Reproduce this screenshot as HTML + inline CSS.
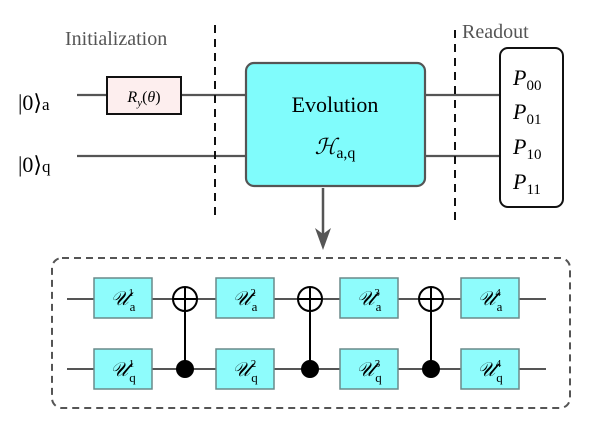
<!DOCTYPE html>
<html><head><meta charset="utf-8"><style>body{margin:0;background:#fff}svg{display:block}</style></head><body>
<svg width="609" height="430" viewBox="0 0 609 430" xmlns="http://www.w3.org/2000/svg" font-family="Liberation Serif, serif">
<g stroke="#555" stroke-width="2.2" fill="none">
<line x1="77" y1="95" x2="246" y2="95"/>
<line x1="77" y1="156" x2="246" y2="156"/>
<line x1="425" y1="95" x2="500" y2="95"/>
<line x1="425" y1="156" x2="500" y2="156"/>
</g>
<rect x="107" y="77" width="74" height="37" fill="#fdeeee" stroke="#111" stroke-width="2"/>
<text x="144" y="102" font-size="16" font-style="italic" text-anchor="middle">R<tspan font-size="11" dy="4">y</tspan><tspan dy="-4" font-style="normal">(</tspan>θ<tspan font-style="normal">)</tspan></text>
<g stroke="#111" stroke-width="2" stroke-dasharray="8,6">
<line x1="215" y1="25" x2="215" y2="215"/>
<line x1="455" y1="30" x2="455" y2="222"/>
</g>
<text x="65" y="45" font-size="20" fill="#555">Initialization</text>
<text x="462" y="38" font-size="20" fill="#555">Readout</text>
<text x="18" y="110" font-size="22">|0⟩<tspan font-size="17">a</tspan></text>
<text x="18" y="172" font-size="22">|0⟩<tspan font-size="17">q</tspan></text>
<rect x="246" y="63" width="179" height="123" rx="8" fill="#80fcfc" stroke="#555" stroke-width="2.2"/>
<text x="335" y="112" font-size="22" text-anchor="middle">Evolution</text>
<text x="335" y="154" font-size="22" text-anchor="middle"><tspan font-style="italic">ℋ</tspan><tspan font-size="16" dy="4">a,q</tspan></text>
<rect x="500" y="48" width="63" height="159" rx="8" fill="#fff" stroke="#111" stroke-width="2"/>
<g font-size="22" font-style="italic">
<text x="513" y="85">P<tspan font-size="15" font-style="normal" dy="5">00</tspan></text>
<text x="513" y="119">P<tspan font-size="15" font-style="normal" dy="5">01</tspan></text>
<text x="513" y="154">P<tspan font-size="15" font-style="normal" dy="5">10</tspan></text>
<text x="513" y="189">P<tspan font-size="15" font-style="normal" dy="5">11</tspan></text>
</g>
<line x1="323" y1="188" x2="323" y2="235" stroke="#555" stroke-width="2.5"/>
<polygon points="315,228 323,250 331,228 323,234" fill="#555"/>
<rect x="52" y="258" width="518" height="150" rx="10" fill="none" stroke="#555" stroke-width="2" stroke-dasharray="7,5"/>
<g stroke="#555" stroke-width="2">
<line x1="67" y1="299" x2="546" y2="299"/>
<line x1="67" y1="369" x2="546" y2="369"/>
</g>
<g fill="#8efcfc" stroke="#6a8a8a" stroke-width="1.5">
<rect x="94" y="278" width="58" height="40"/><rect x="94" y="349" width="58" height="40"/>
<rect x="216" y="278" width="58" height="40"/><rect x="216" y="349" width="58" height="40"/>
<rect x="340" y="278" width="58" height="40"/><rect x="340" y="349" width="58" height="40"/>
<rect x="461" y="278" width="58" height="40"/><rect x="461" y="349" width="58" height="40"/>
</g>
<g font-size="20" font-style="italic" text-anchor="middle">
<text x="123" y="305">𝒰<tspan font-size="13" font-style="normal" dx="1" dy="6">a</tspan><tspan font-size="11" font-style="normal" dx="-7" dy="-15">1</tspan></text>
<text x="123" y="376">𝒰<tspan font-size="13" font-style="normal" dx="1" dy="6">q</tspan><tspan font-size="11" font-style="normal" dx="-7" dy="-15">1</tspan></text>
<text x="245" y="305">𝒰<tspan font-size="13" font-style="normal" dx="1" dy="6">a</tspan><tspan font-size="11" font-style="normal" dx="-7" dy="-15">2</tspan></text>
<text x="245" y="376">𝒰<tspan font-size="13" font-style="normal" dx="1" dy="6">q</tspan><tspan font-size="11" font-style="normal" dx="-7" dy="-15">2</tspan></text>
<text x="369" y="305">𝒰<tspan font-size="13" font-style="normal" dx="1" dy="6">a</tspan><tspan font-size="11" font-style="normal" dx="-7" dy="-15">3</tspan></text>
<text x="369" y="376">𝒰<tspan font-size="13" font-style="normal" dx="1" dy="6">q</tspan><tspan font-size="11" font-style="normal" dx="-7" dy="-15">3</tspan></text>
<text x="490" y="305">𝒰<tspan font-size="13" font-style="normal" dx="1" dy="6">a</tspan><tspan font-size="11" font-style="normal" dx="-7" dy="-15">4</tspan></text>
<text x="490" y="376">𝒰<tspan font-size="13" font-style="normal" dx="1" dy="6">q</tspan><tspan font-size="11" font-style="normal" dx="-7" dy="-15">4</tspan></text>
</g>
<g stroke="#000" stroke-width="2" fill="#fff">
<line x1="185" y1="287" x2="185" y2="369"/><circle cx="185" cy="299" r="12"/><line x1="173" y1="299" x2="197" y2="299"/><line x1="185" y1="287" x2="185" y2="311"/><circle cx="185" cy="369" r="8" fill="#000"/>
<line x1="310" y1="287" x2="310" y2="369"/><circle cx="310" cy="299" r="12"/><line x1="298" y1="299" x2="322" y2="299"/><line x1="310" y1="287" x2="310" y2="311"/><circle cx="310" cy="369" r="8" fill="#000"/>
<line x1="431" y1="287" x2="431" y2="369"/><circle cx="431" cy="299" r="12"/><line x1="419" y1="299" x2="443" y2="299"/><line x1="431" y1="287" x2="431" y2="311"/><circle cx="431" cy="369" r="8" fill="#000"/>
</g>
</svg>
</body></html>
